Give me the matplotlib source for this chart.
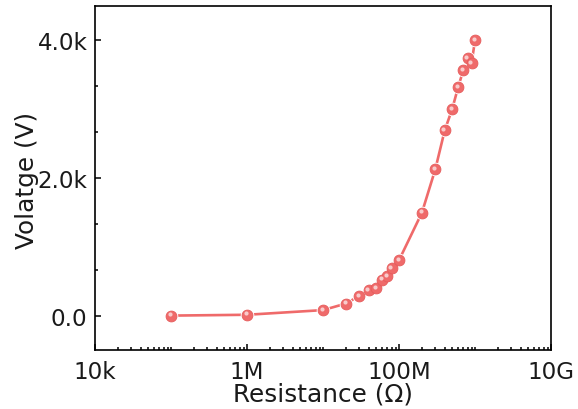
import numpy as np
import matplotlib
matplotlib.use("Agg")
import matplotlib.pyplot as plt
import matplotlib.transforms as mtransforms
from matplotlib.ticker import FixedLocator, LogLocator, MultipleLocator, NullFormatter

plt.rcParams['font.family'] = ['DejaVu Sans']

# resistance (ohm) and voltage (V)
resistance = [1e5, 1e6, 1e7, 2e7, 3e7, 4e7, 5e7, 6e7, 7e7, 8e7, 1e8,
              2e8, 3e8, 4e8, 5e8, 6e8, 7e8, 8e8, 9e8, 1e9]
voltage = [0, 12, 80, 175, 285, 370, 395, 520, 570, 685, 805,
           1495, 2125, 2695, 3000, 3320, 3565, 3745, 3670, 4000]

x_ticks = [1e4, 1e6, 1e8, 1e10]
x_labels = ['10k', '1M', '100M', '10G']
y_ticks = [0, 2000, 4000]
y_labels = ['0.0', '2.0k', '4.0k']

red = '#EF6A6A'
dark_red = '#E65B5B'
highlight = '#FAD6D6'

fig = plt.figure(figsize=(5.78, 4.10), dpi=100)
ax = fig.add_axes([0.1644, 0.1439, 0.7889, 0.8390])

ax.plot(resistance, voltage, color=red, lw=1.9, zorder=2)
# white rings give the small gap between line and symbol
ax.plot(resistance, voltage, ls='none', marker='o', ms=9.8, mfc='white',
        mec='none', zorder=3)
ax.plot(resistance, voltage, ls='none', marker='o', ms=7.8, mfc=red,
        mec=dark_red, mew=0.6, zorder=4)
# glossy spot to mimic the sphere symbols
shine = mtransforms.offset_copy(ax.transData, fig=fig, x=-1.0, y=1.0, units='points')
ax.plot(resistance, voltage, ls='none', marker='o', ms=3.0, mfc=highlight,
        mec='none', alpha=0.9, transform=shine, zorder=5)

ax.set_xscale('log')
ax.set_xlim(1e4, 1e10)
ax.set_ylim(-500, 4500)

ax.xaxis.set_major_locator(FixedLocator(x_ticks))
ax.set_xticklabels(x_labels)
ax.xaxis.set_minor_locator(LogLocator(base=10, subs=np.arange(1, 10), numticks=20))
ax.xaxis.set_minor_formatter(NullFormatter())
ax.set_yticks(y_ticks)
ax.set_yticklabels(y_labels)
ax.yaxis.set_minor_locator(MultipleLocator(2000 / 3))

ax.tick_params(which='both', direction='in', top=False, right=False,
               labelsize=16.6, width=1.1, labelcolor='#1a1a1a')
ax.tick_params(axis='x', pad=7)
ax.tick_params(axis='y', pad=5.5)
ax.tick_params(which='major', length=4.5)
ax.tick_params(which='minor', length=2.5)
for s in ax.spines.values():
    s.set_linewidth(1.2)

ax.set_xlabel('Resistance (\u03a9)', fontsize=17.8, color='#1a1a1a')
ax.set_ylabel('Volatge (V)', fontsize=17.8, color='#1a1a1a')
ax.xaxis.set_label_coords(0.5, -0.0916)
ax.yaxis.set_label_coords(-0.123, 0.496)

fig.savefig('out.png', dpi=100)
